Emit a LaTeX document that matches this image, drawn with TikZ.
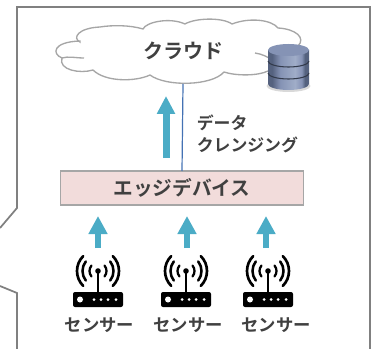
\documentclass[tikz,border=0pt]{standalone}
\usepackage{fontspec}
\setmainfont{Noto Sans CJK JP Bold}
\usetikzlibrary{arrows.meta,shadings}
\definecolor{txt}{HTML}{404040}
\definecolor{frameg}{HTML}{808080}
\definecolor{cloudg}{HTML}{A6A6A6}
\definecolor{pinkf}{HTML}{F2DCDB}
\definecolor{teal}{HTML}{4BACC6}
\definecolor{linkb}{HTML}{4472B4}
\definecolor{dbm}{HTML}{8593B5}
\definecolor{dbd}{HTML}{55627F}
\definecolor{dbl}{HTML}{A0ADC8}
\pgfdeclarehorizontalshading{dbbody}{100bp}{color(0bp)=(dbd);color(30bp)=(dbd);color(40bp)=(dbm);color(58bp)=(dbl);color(66bp)=(dbm);color(70bp)=(dbd);color(100bp)=(dbd)}
\tikzset{
  x=0.75pt,y=-0.75pt,
  lbl/.style={font=\fontsize{#1}{#1}\selectfont,text=txt,inner sep=0pt},
  bigarrow/.style={draw=teal,line width=5.25pt,-{Triangle[length=13.5pt,width=13pt,fill=teal]}},
  smallarrow/.style={draw=teal,line width=4.5pt,-{Triangle[length=13.5pt,width=13.5pt,fill=teal]}},
  sensorpic/.pic={
    \draw[line width=2pt,black,line cap=round] (0,0) ++(135:21) arc[start angle=135,end angle=225,radius=21];
    \draw[line width=2pt,black,line cap=round] (0,0) ++(45:21) arc[start angle=45,end angle=-45,radius=21];
    \draw[line width=1.9pt,black,line cap=round] (0,0) ++(142:15.5) arc[start angle=142,end angle=218,radius=15.5];
    \draw[line width=1.9pt,black,line cap=round] (0,0) ++(38:15.5) arc[start angle=38,end angle=-38,radius=15.5];
    \draw[line width=1.7pt,black,line cap=round] (0,0) ++(140:8.5) arc[start angle=140,end angle=220,radius=8.5];
    \draw[line width=1.7pt,black,line cap=round] (0,0) ++(40:8.5) arc[start angle=40,end angle=-40,radius=8.5];
    \fill[black] (0,0) circle[radius=2.8];
    \draw[line width=1.4pt,black] (0,0) -- (0,22);
    \fill[black,rounded corners=1.5pt] (-25,21) rectangle (25,36);
    \fill[white] (-18,28.5) circle[radius=3];
    \foreach \dx in {-4,3,10,18}{\fill[white] (\dx,28.5) circle[radius=1.5];}
  }
}
\begin{document}
\begin{tikzpicture}
\useasboundingbox (0,0) rectangle (374,349);
\fill[white] (0,0) rectangle (374,349);
% frame
\draw[frameg,line width=1.3pt,line join=miter] (0,228) -- (17,208) -- (17,7) -- (370,7) -- (370,349) (17,349) -- (17,293) -- (0,286);
% cloud
\draw[cloudg,line width=1pt,fill=white]
  (80,42) .. controls (72,38) and (78,28) .. (100,27)
  .. controls (112,25) and (130,25) .. (143,29)
  .. controls (146,22) and (170,17) .. (185,24)
  .. controls (195,18) and (222,17) .. (232,24)
  .. controls (250,17) and (272,20) .. (278,28)
  .. controls (296,29) and (306,38) .. (298,46)
  .. controls (310,58) and (290,72) .. (268,71)
  .. controls (258,76) and (236,76) .. (224,72)
  .. controls (212,86) and (166,87) .. (150,75)
  .. controls (135,82) and (105,82) .. (93,70)
  .. controls (80,74) and (58,70) .. (62,58)
  .. controls (52,54) and (52,42) .. (80,41)
  -- cycle;
\fill[white] (82,48) rectangle (90,62);
\draw[cloudg,line width=1pt] (62,58) .. controls (68,56) and (76,58) .. (84,58);
\draw[cloudg,line width=1pt] (255,53) .. controls (262,54) and (268,57) .. (272,60);
\node[lbl=15] (cloudtxt) at (183.5,51) {クラウド};
% database
\fill[black,opacity=0.15] (288.5,86) ellipse[x radius=22,y radius=6];
\shade[shading=dbbody] (268,50) -- (268,84) arc[start angle=180,end angle=0,x radius=20.5,y radius=6] -- (309,50) -- cycle;
\fill[dbm] (288.5,50) ellipse[x radius=20.5,y radius=6];
\draw[dbd!60!black,line width=0.8pt] (268,61) arc[start angle=180,end angle=0,x radius=20.5,y radius=6];
\draw[dbd!60!black,line width=0.8pt] (268,73) arc[start angle=180,end angle=0,x radius=20.5,y radius=6];
% edge device
\node[draw=cloudg,line width=0.9pt,fill=pinkf,minimum width=182pt,minimum height=25.5pt,inner sep=0pt,font=\fontsize{14.75}{14.75}\selectfont,text=txt] (edge) at (182,188) {エッジデバイス};
% connector and arrows
\coordinate (cloudb) at (183,84);
\coordinate (edgelink) at (182,171);
\draw[linkb,line width=0.9pt] (cloudb) -- (edgelink);
\coordinate (bigs) at (166,158);
\coordinate (bigt) at (166,96);
\draw[bigarrow] (bigs) -- (bigt);
\node[lbl=12.65,anchor=west] (data1) at (196.5,123) {データ};
\node[lbl=12.65,anchor=west] (data2) at (196.5,144.5) {クレンジング};
% sensors
\foreach \n/\ax/\ix/\tx in {1/98/98/99.5,2/187/186/188,3/266/268/276}{
  \coordinate (as\n) at (\ax,248);
  \coordinate (at\n) at (\ax,216);
  \draw[smallarrow] (as\n) -- (at\n);
  \pic (icon\n) at (\ix,271) {sensorpic};
  \node[lbl=13] (sens\n) at (\tx,325) {センサー};
}
\end{tikzpicture}
\end{document}
